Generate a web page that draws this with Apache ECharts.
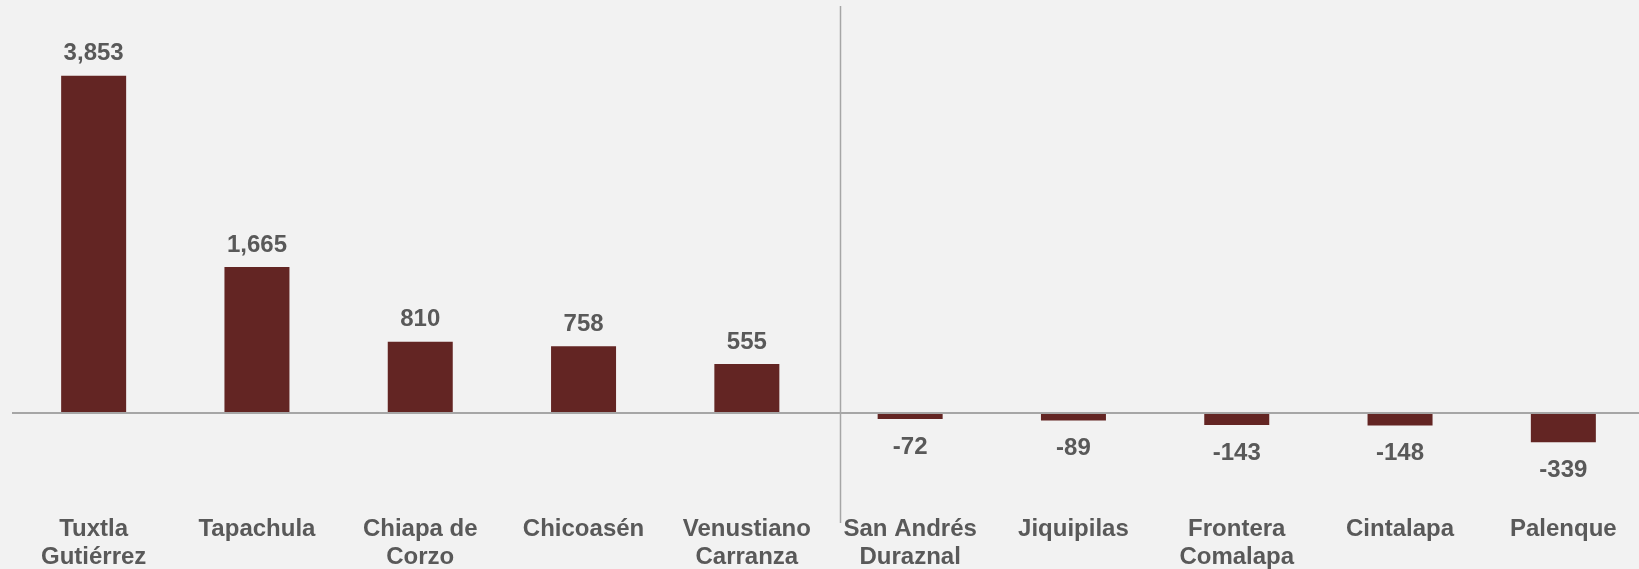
<!DOCTYPE html>
<html>
<head>
<meta charset="utf-8">
<script src="https://cdn.jsdelivr.net/npm/echarts@6/dist/echarts.min.js"></script>
<style>
html,body{margin:0;padding:0;background:#f2f2f2;}
#chart{width:1639px;height:569px;}
</style>
</head>
<body>
<div id="chart"></div>
<script>
const categories = ["Tuxtla\nGutiérrez","Tapachula","Chiapa de\nCorzo","Chicoasén","Venustiano\nCarranza","San Andrés\nDuraznal","Jiquipilas","Frontera\nComalapa","Cintalapa","Palenque"];
const values = [3853, 1665, 810, 758, 555, -72, -89, -143, -148, -339];

const FONT = "'Liberation Sans', Arial, sans-serif";
const chart = echarts.init(document.getElementById('chart'), null, {renderer:'canvas'});
const labelStyle = {color: '#595959', fontFamily: FONT, fontWeight: 'bold', fontSize: 24};
chart.setOption({
  backgroundColor: '#f2f2f2',
  animation: false,
  grid: {left: 12, width: 1633, top: 63, height: 437, containLabel: false, outerBoundsMode: 'none'},
  xAxis: {
    type: 'category',
    data: categories,
    axisLine: {show: false, onZero: false},
    axisTick: {show: false},
    axisLabel: Object.assign({interval: 0, margin: 15, lineHeight: 28}, labelStyle)
  },
  yAxis: {
    type: 'value', min: -1000, max: 4000, show: false,
    splitLine: {show: false}
  },
  series: [{
    type: 'bar',
    data: values.map(v => v < 0
      ? {value: v, label: {position: 'bottom', distance: 16}}
      : v),
    barWidth: 65,
    itemStyle: {color: '#632523'},
    label: Object.assign({
      show: true,
      distance: 10,
      position: 'top',
      formatter: p => p.value.toLocaleString('en-US')
    }, labelStyle),
    markLine: {
      silent: true, symbol: 'none', label: {show: false},
      lineStyle: {color: '#a6a6a6', width: 2, type: 'solid'},
      data: [{yAxis: 0}]
    }
  }],
  graphic: [{
    type: 'line',
    shape: {x1: 840.5, y1: 6, x2: 840.5, y2: 523},
    style: {stroke: '#a6a6a6', lineWidth: 1.5}
  }]
});
</script>
</body>
</html>
